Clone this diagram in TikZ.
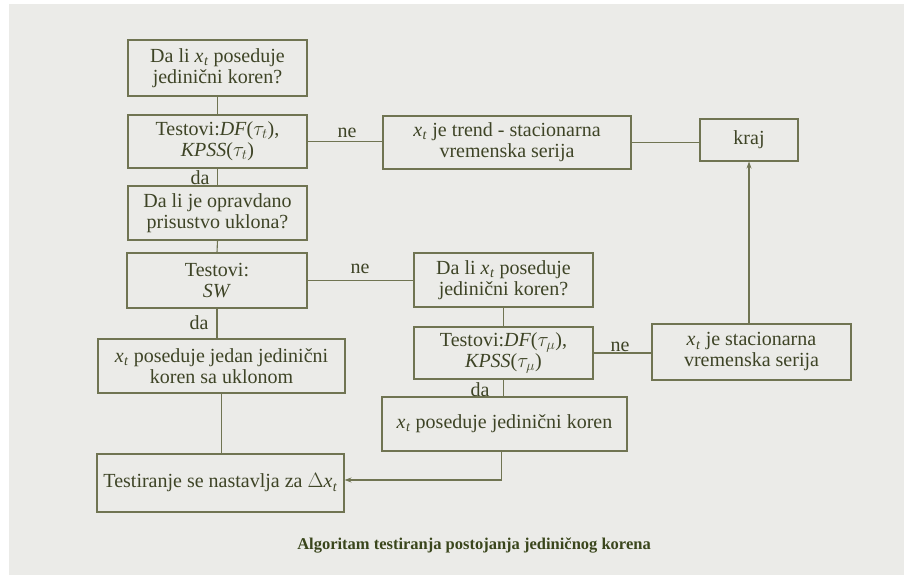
\documentclass[tikz,border=0pt]{standalone}
\usepackage{fontspec}
\setmainfont{Liberation Serif}
\usetikzlibrary{arrows.meta,calc}
\definecolor{bg}{RGB}{235,235,232}
\definecolor{ln}{RGB}{112,116,82}
\definecolor{tx}{RGB}{62,68,38}
\definecolor{capc}{RGB}{58,70,28}
\newcommand{\xt}{\textit{x}\kern0.5pt\textsubscript{\textit{t}}}
\begin{document}
\begin{tikzpicture}[x=1pt,y=-1pt,
  box/.style={draw=ln,line width=1.1pt,text=tx,align=center,inner sep=0pt,font=\fontsize{20}{21}\selectfont},
  conn/.style={draw=ln,line width=1.1pt},
  lbl/.style={text=tx,font=\fontsize{20}{21}\selectfont,inner sep=0pt},
  arr/.style={conn,-{Stealth[length=7pt,width=5pt]}}]
\useasboundingbox (0,0) rectangle (904,575);
\fill[white] (0,0) rectangle (904,575);
\fill[bg] (9,4) rectangle (904,575);

\node[box,minimum width=179pt,minimum height=56pt] (A) at (217.5,68) {Da li \xt\ poseduje\\ jedinični koren?};
\node[box,minimum width=179pt,minimum height=53pt] (B) at (217.5,141.5) {Testovi:\textit{DF}($\tau_t$),\\ \textit{KPSS}($\tau_t$)};
\node[box,minimum width=179pt,minimum height=54pt] (C) at (217.5,213) {Da li je opravdano\\ prisustvo uklona?};
\node[box,minimum width=180pt,minimum height=55pt] (E) at (217,280.5) {Testovi:\\ \textit{SW}};
\node[box,minimum width=247pt,minimum height=54pt] (G) at (221.5,366) {\xt\ poseduje jedan jedinični\\ koren sa uklonom};
\node[box,minimum width=247pt,minimum height=58pt] (H) at (220.5,483) {Testiranje se nastavlja za $\Delta$\xt};
\node[box,minimum width=248pt,minimum height=53pt] (D) at (507,142.5) {\xt\ je trend - stacionarna\\ vremenska serija};
\node[box,minimum width=98pt,minimum height=42pt] (kraj) at (749,140) {kraj};
\node[box,minimum width=179pt,minimum height=54pt] (F) at (503.5,280) {Da li \xt\ poseduje\\ jedinični koren?};
\node[box,minimum width=179pt,minimum height=52pt] (I) at (503.5,353) {Testovi:\textit{DF}($\tau_\mu$),\\ \textit{KPSS}($\tau_\mu$)};
\node[box,minimum width=245pt,minimum height=54pt] (J) at (504.5,424) {\xt\ poseduje jedinični koren};
\node[box,minimum width=199pt,minimum height=56pt] (K) at (751.5,352) {\xt\ je stacionarna\\ vremenska serija};

\draw[conn] (A.south) -- (B.north);
\draw[conn] (B.east) -- (B.east -| D.west);
\draw[conn] (D.east) -- (D.east -| kraj.west);
\draw[conn] (B.south) -- (C.north);
\draw[conn] (C.south) -- (E.north);
\draw[conn] (E.east) -- (E.east -| F.west);
\draw[conn] (E.south) -- (E.south |- G.north);
\draw[conn] (G.south) -- (G.south |- H.north);
\draw[conn] (F.south) -- (I.north);
\draw[conn] (I.east) -- (I.east -| K.west);
\draw[conn] (I.south) -- (I.south |- J.north);
\draw[arr] (kraj.south |- K.north) -- (kraj.south);
\draw[arr] ($(J.south)+(-3,0)$) |- ($(H.east)+(0,-3)$);

\node[lbl] (ne1) at (347,133) {ne};
\node[lbl] (ne2) at (360,269) {ne};
\node[lbl] (ne3) at (620,347) {ne};
\node[lbl] (da1) at (200,178) {da};
\node[lbl] (da2) at (199,323) {da};
\node[lbl] (da3) at (480,390) {da};

\node[text=capc,font=\fontsize{16.5}{19}\selectfont\bfseries,inner sep=0pt] (cap) at (474,545) {Algoritam testiranja postojanja jediničnog korena};
\end{tikzpicture}
\end{document}
